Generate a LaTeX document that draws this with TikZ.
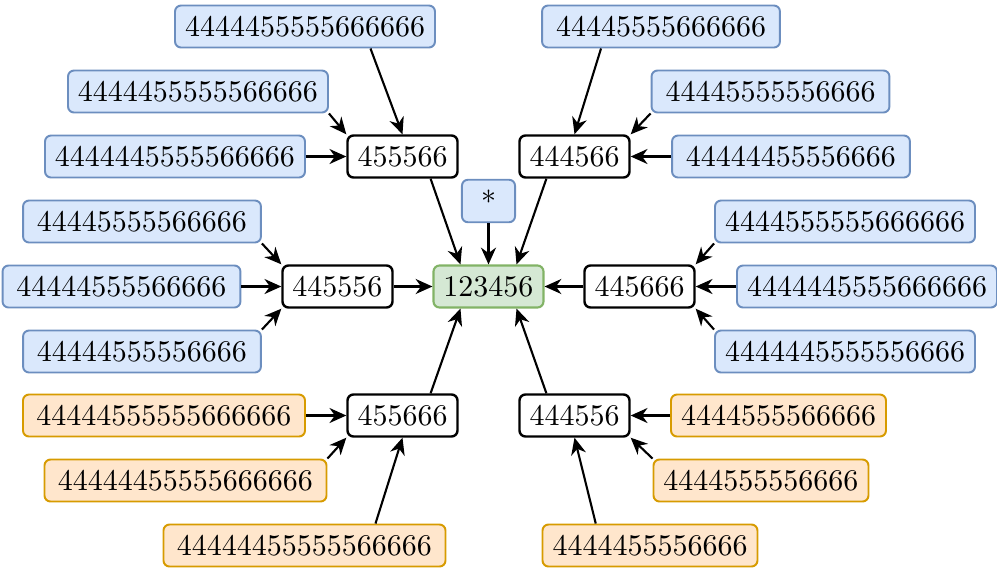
\documentclass[tikz,border=0pt]{standalone}
\usetikzlibrary{arrows.meta,calc}
\definecolor{bluefill}{HTML}{DAE8FC}
\definecolor{blueline}{HTML}{6C8EBF}
\definecolor{orgfill}{HTML}{FFE6CC}
\definecolor{orgline}{HTML}{D79B00}
\definecolor{grnfill}{HTML}{D5E8D4}
\definecolor{grnline}{HTML}{82B366}
\begin{document}
\begin{tikzpicture}[x=0.33333pt,y=-0.33333pt,%
        box/.style={rounded corners=2pt,minimum height=14pt,inner xsep=3.33pt,
          line width=0.65pt,text centered},%
        mid/.style={box,draw=black,fill=white,line width=0.8pt},%
        res/.style={box,draw=grnline,fill=grnfill,line width=0.7pt},%
        blu/.style={box,draw=blueline,fill=bluefill},%
        org/.style={box,draw=orgline,fill=orgfill},%
        w14/.style={minimum width=79.3pt}, w17/.style={minimum width=94pt},%
        arr/.style={-{Stealth[length=5.6pt,width=5pt,inset=1.8pt]},line width=0.7pt}]%
        \useasboundingbox (0,0) rectangle (997,570);
        \node[res] (root) at (488.5,286.5) {123456}; \node[blu,minimum
        width=17.7pt] (star) at (488.5,201) {*}; \node[mid] (mtl) at
        (402.5,156.5) {455566}; \node[mid] (mtr) at (574.5,156.5) {444566};
        \node[mid] (ml) at (337.5,286.5) {445556}; \node[mid] (mr) at
        (639.5,286.5) {445666}; \node[mid] (mbl) at (402.5,415.5) {455666};
        \node[mid] (mbr) at (574.5,415.5) {444556};
        \node[blu] (tl1) at (305,26.5) {4444455555666666}; \node[blu] (tl2) at
        (198,91.5) {4444455555566666}; \node[blu] (tl3) at (175,156.5)
        {4444445555566666}; \node[blu,w14] (tr1) at (661,26.5)
        {44445555666666}; \node[blu,w14] (tr2) at (770.5,91.5)
        {44445555556666}; \node[blu,w14] (tr3) at (791,156.5)
        {44444455556666};
        \node[blu,w14] (l1) at (142,221.5) {44445555566666}; \node[blu,w14]
        (l2) at (121.5,286.5) {44444555566666}; \node[blu,w14] (l3) at
        (142,351.5) {44444555556666}; \node[blu] (r1) at (845,221.5)
        {4444555555666666}; \node[blu] (r2) at (867,286.5) {4444445555666666};
        \node[blu] (r3) at (845,351.5) {4444445555556666};
        \node[org,w17] (bl1) at (164,415.5) {44444555555666666};
        \node[org,w17] (bl2) at (185.5,480.5) {44444455555666666};
        \node[org,w17] (bl3) at (304.5,545.5) {44444455555566666}; \node[org]
        (br1) at (778.5,415.5) {4444555566666}; \node[org] (br2) at
        (761,480.5) {4444555556666}; \node[org] (br3) at (650,545.5)
        {4444455556666};
        \draw[arr] ($(tl1.south west)!.75!(tl1.south east)$) -- (mtl.north);
        \draw[arr] (tl2.south east) -- (mtl.north west); \draw[arr] (tl3) --
        (mtl); \draw[arr] ($(tr1.south west)!.25!(tr1.south east)$) --
        (mtr.north); \draw[arr] (tr2.south west) -- (mtr.north east);
        \draw[arr] (tr3) -- (mtr);
        \draw[arr] (l1.south east) -- (ml.north west); \draw[arr] (l2) --
        (ml); \draw[arr] (l3.north east) -- (ml.south west); \draw[arr]
        (r1.south west) -- (mr.north east); \draw[arr] (r2) -- (mr);
        \draw[arr] (r3.north west) -- (mr.south east);
        \draw[arr] (bl1) -- (mbl); \draw[arr] (bl2.north east) -- (mbl.south
        west); \draw[arr] ($(bl3.north west)!.75!(bl3.north east)$) --
        (mbl.south); \draw[arr] (br1) -- (mbr); \draw[arr] (br2.north west)
        -- (mbr.south east); \draw[arr] ($(br3.north west)!.25!(br3.north
        east)$) -- (mbr.south);
        \draw[arr] ($(mtl.south west)!.75!(mtl.south east)$) -- ($(root.north
        west)!.25!(root.north east)$); \draw[arr] ($(mtr.south
        west)!.25!(mtr.south east)$) -- ($(root.north west)!.75!(root.north
        east)$); \draw[arr] (star) -- (root); \draw[arr] (ml) -- (root);
        \draw[arr] (mr) -- (root); \draw[arr] ($(mbl.north west)!.75!(mbl.north
        east)$) -- ($(root.south west)!.25!(root.south east)$); \draw[arr]
        ($(mbr.north west)!.25!(mbr.north east)$) -- ($(root.south
        west)!.75!(root.south east)$);
      \end{tikzpicture}
\end{document}
